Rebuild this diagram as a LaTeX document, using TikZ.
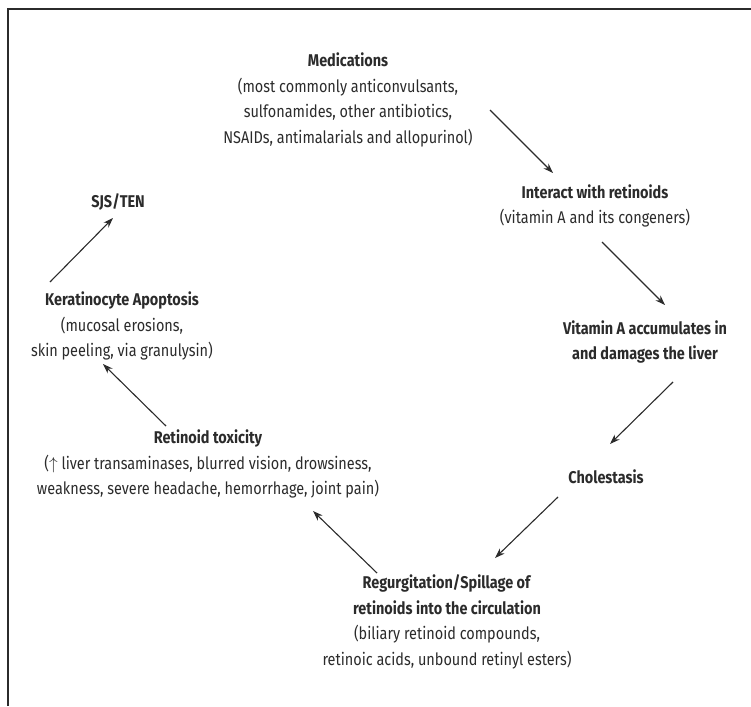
\documentclass[tikz,border=0pt]{standalone}
\usepackage{fontspec}
\setmainfont{Fira Sans}[FakeStretch=0.85]
\usetikzlibrary{arrows.meta}
\definecolor{ink}{HTML}{2B2B2B}
\tikzstyle{block} = [align=center, inner sep=0pt, text=ink, font={\fontsize{17}{25.5}\selectfont}]
\tikzstyle{flow} = [-{Stealth[length=10pt, width=7pt]}, line width=1.1pt, draw=ink]
\tikzstyle{frame} = [line width=1.5pt, draw=ink]

\begin{document}
\begin{tikzpicture}[x=1pt, y=-1pt]
    \useasboundingbox (0,0) rectangle (751,706);
    \draw [frame] (8,706) -- (8,9) -- (751,9);

    \node (medications) at (348,100) [block] {\textbf{Medications}\\(most commonly anticonvulsants,\\sulfonamides, other antibiotics,\\NSAIDs, antimalarials and allopurinol)};
    \node (interact) at (595,206) [block] {\textbf{Interact with retinoids}\\(vitamin A and its congeners)};
    \node (vitamin) at (645,342) [block] {\textbf{Vitamin A accumulates in}\\\textbf{and damages the liver}};
    \node (cholestasis) at (606,477) [block] {\textbf{Cholestasis}};
    \node (spillage) at (447,622) [block] {\textbf{Regurgitation/Spillage of}\\\textbf{retinoids into the circulation}\\(biliary retinoid compounds,\\retinoic acids, unbound retinyl esters)};
    \node (toxicity) at (208,464) [block] {\textbf{Retinoid toxicity}\\($\uparrow$ liver transaminases, blurred vision, drowsiness,\\weakness, severe headache, hemorrhage, joint pain)};
    \node (apoptosis) at (122,326) [block] {\textbf{Keratinocyte Apoptosis}\\(mucosal erosions,\\skin peeling, via granulysin)};
    \node (sjs) at (118,202) [block] {\textbf{SJS/TEN}};

    % Arrows.
    \draw [flow] ([shift={(142,10)}]medications.center) -- ([shift={(-42,-33)}]interact.center);
    \draw [flow] ([shift={(7,36)}]interact.center) -- ([shift={(20,-37)}]vitamin.center);
    \draw [flow] ([shift={(28,40)}]vitamin.center) -- ([shift={(4,-33)}]cholestasis.center);
    \draw [flow] ([shift={(-48,20)}]cholestasis.center) -- ([shift={(48,-64)}]spillage.center);
    \draw [flow] ([shift={(-70,-49)}]spillage.center) -- ([shift={(105,47)}]toxicity.center);
    \draw [flow] ([shift={(-42,-38)}]toxicity.center) -- ([shift={(-19,38)}]apoptosis.center);
    \draw [flow] ([shift={(-72,-44)}]apoptosis.center) -- ([shift={(-5,16)}]sjs.center);
\end{tikzpicture}
\end{document}
